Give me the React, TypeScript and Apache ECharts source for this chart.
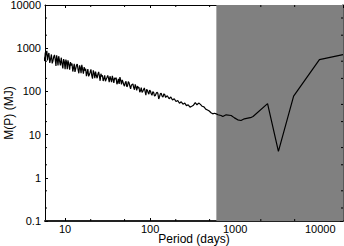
import React, { useEffect, useRef } from "react";
import * as echarts from "echarts";

const periods = [
  5.6, 5.7, 5.8, 5.95, 6.1, 6.2, 6.3, 6.45, 6.6, 6.75,
  6.9, 7.05, 7.2, 7.35, 7.5, 7.65, 7.8, 7.95, 8.1, 8.25,
  8.4, 8.6, 8.8, 9.0, 9.2, 9.4, 9.6, 9.8, 10, 10.2,
  10.4, 10.6, 10.8, 11.05, 11.3, 11.55, 11.8, 12.05, 12.3, 12.55,
  12.8, 13.05, 13.3, 13.6, 13.9, 14.2, 14.5, 14.8, 15.1, 15.4,
  15.7, 16.05, 16.4, 16.75, 17.1, 17.45, 17.8, 18.15, 18.5, 18.9,
  19.3, 19.7, 20.1, 20.55, 21, 21.45, 21.9, 22.35, 22.8, 23.3,
  23.8, 24.3, 24.8, 25.3, 25.8, 26.35, 26.9, 27.45, 28, 28.6,
  29.2, 29.8, 30.4, 31.05, 31.7, 32.35, 33, 33.7, 34.4, 35.15,
  35.9, 36.65, 37.4, 38.2, 39, 39.8, 40.6, 41.45, 42.3, 43.2,
  44.1, 45.05, 46, 46.95, 47.9, 48.9, 49.9, 50.95, 52, 53.1,
  54.2, 55.35, 56.5, 57.7, 58.9, 60.15, 61.4, 62.7, 64, 65.35,
  66.7, 68.1, 69.5, 70.95, 72.4, 73.9, 75.4, 77, 78.6, 80.25,
  81.9, 83.65, 85.4, 87.2, 89, 90.85, 92.7, 94.65, 96.6, 98.65,
  100.7, 102.8, 105, 107.5, 110, 112.5, 115, 117.5, 120, 123,
  126, 129, 132, 135, 138, 141.5, 145, 148.5, 152,
  159, 167, 175, 183, 192, 201, 211, 221, 232, 243,
  255, 267, 280, 294, 308, 323, 339, 355, 372, 390,
  409, 429, 450, 472, 495, 519, 544, 570, 598, 627,
  681, 714, 782, 896, 980, 1070, 1170, 1280, 1550, 1620,
  2400, 3220, 4860, 9770, 18500,
];

const masses = [
  794, 507, 537, 724, 871, 519, 661, 776, 457, 566,
  716, 444, 513, 635, 700, 546, 389, 684, 550, 400,
  653, 510, 398, 603, 447, 342, 558, 479, 327, 546,
  468, 327, 525, 429, 320, 476, 398, 442, 288, 351,
  437, 283, 327, 405, 427, 320, 263, 400, 351, 263,
  412, 329, 257, 367, 302, 333, 226, 269, 327, 223,
  245, 279, 324, 236, 197, 307, 263, 202, 288, 230,
  202, 250, 282, 225, 176, 257, 221, 236, 174, 197,
  234, 172, 191, 211, 234, 203, 164, 224, 194, 164,
  229, 193, 158, 207, 191, 208, 146, 163, 194, 149,
  214, 179, 146, 185, 166, 143, 132, 159, 172, 128,
  135, 168, 158, 133, 114, 140, 145, 149, 122, 109,
  145, 127, 105, 133, 119, 125, 95.5, 104, 123, 94.4,
  100, 111, 120, 98.3, 82.2, 112, 106, 93.3, 86.1, 107,
  102, 88.1, 81.3, 98.9, 93.3, 78.1, 80.4, 89.7, 95.5, 90.7,
  66.8, 76.3, 89.1, 90.2, 77.6, 73.7, 88.1, 83.6, 72.4,
  79.4, 67.6, 74.1, 63.1, 67.6, 58.2, 61.7, 53.1, 57.5, 50.7,
  53.7, 46.8, 49, 43.2, 45.2, 47.9, 55, 49, 53.7, 50.1,
  45.2, 43.7, 38.9, 37.2, 35.1, 32, 30.2, 31.3, 30.2, 28.8,
  27.7, 26.3, 28.7, 27.7, 24.4, 22, 21.2, 23.2, 25.1, 26.3,
  52, 4.1, 78, 546, 713,
];

const xMin = 5.8;
const xMax = 18500;
const yMin = 0.1;
const yMax = 10000;
const shadeStart = 600;
const xMinorTicks = [20, 50, 200, 500, 2000, 5000];
const yMinorTicks = [0.2, 0.5, 2, 5, 20, 50, 200, 500, 2000, 5000];

const FONT = "'Liberation Sans', Arial, Helvetica, sans-serif";

export default function App() {
  const ref = useRef<HTMLDivElement>(null);
  useEffect(() => {
    if (!ref.current) return;
    const chart = echarts.init(ref.current, null, { renderer: "svg" });
    const lineData = periods.map((p, i) => [p, masses[i]]);
    const minorData = [
      ...xMinorTicks.map((v) => [v, 1, 0]),
      ...yMinorTicks.map((v) => [100, v, 1]),
    ];
    const fmt = (v: number) => (v < 1 ? v.toFixed(1) : String(Math.round(v)));
    const tick = { show: true, inside: true, length: 3, lineStyle: { color: "#000", width: 1 } };
    chart.setOption({
      animation: false,
      grid: { left: 45, right: 1, top: 5, bottom: 25, containLabel: false, outerBoundsMode: "none" },
      xAxis: [
        {
          type: "log",
          logBase: 10,
          min: xMin,
          max: xMax,
          position: "bottom",
          axisLine: { show: true, lineStyle: { color: "#222", width: 2 } },
          axisTick: tick,
          splitLine: { show: false },
          axisLabel: {
            show: true,
            margin: 2,
            color: "#000",
            fontSize: 11,
            lineHeight: 11,
            fontFamily: FONT,
            showMinLabel: false,
            showMaxLabel: false,
            formatter: fmt,
          },
          name: "Period (days)",
          nameLocation: "middle",
          nameGap: 12,
          nameMoveOverlap: false,
          nameTextStyle: { color: "#000", fontSize: 12, lineHeight: 12, fontFamily: FONT },
        },
        {
          type: "log",
          logBase: 10,
          min: xMin,
          max: xMax,
          position: "top",
          axisLine: { show: true, lineStyle: { color: "#000", width: 1 } },
          axisTick: tick,
          splitLine: { show: false },
          axisLabel: { show: false },
        },
      ],
      yAxis: [
        {
          type: "log",
          logBase: 10,
          min: yMin,
          max: yMax,
          position: "left",
          axisLine: { show: true, lineStyle: { color: "#000", width: 1 } },
          axisTick: tick,
          splitLine: { show: false },
          axisLabel: {
            show: true,
            margin: 4,
            color: "#000",
            fontSize: 11,
            fontFamily: FONT,
            formatter: fmt,
          },
          name: "M(P) (MJ)",
          nameLocation: "middle",
          nameGap: 30,
          nameMoveOverlap: false,
          nameTextStyle: { color: "#000", fontSize: 12, fontFamily: FONT },
        },
        {
          type: "log",
          logBase: 10,
          min: yMin,
          max: yMax,
          position: "right",
          axisLine: { show: true, lineStyle: { color: "#222", width: 1.5 } },
          axisTick: tick,
          splitLine: { show: false },
          axisLabel: { show: false },
        },
      ],
      series: [
        {
          type: "line",
          xAxisIndex: 0,
          yAxisIndex: 0,
          data: lineData,
          showSymbol: false,
          symbol: "none",
          z: 3,
          lineStyle: { color: "#000", width: 1.2 },
          markArea: {
            silent: true,
            itemStyle: { color: "#808080", opacity: 1 },
            data: [[{ xAxis: shadeStart }, { xAxis: xMax }]],
          },
        },
        {
          type: "custom",
          xAxisIndex: 0,
          yAxisIndex: 0,
          data: minorData,
          z: 4,
          silent: true,
          clip: false,
          renderItem: (params: any, api: any) => {
            const cs = params.coordSys;
            const flag = api.value(2);
            const style = { stroke: "#000", lineWidth: 1 };
            if (flag === 0) {
              const px = api.coord([api.value(0), 1])[0];
              return {
                type: "group",
                children: [
                  { type: "line", shape: { x1: px, y1: cs.y + cs.height, x2: px, y2: cs.y + cs.height - 2 }, style },
                  { type: "line", shape: { x1: px, y1: cs.y, x2: px, y2: cs.y + 2 }, style },
                ],
              };
            }
            const py = api.coord([100, api.value(1)])[1];
            return {
              type: "group",
              children: [
                { type: "line", shape: { x1: cs.x, y1: py, x2: cs.x + 2, y2: py }, style },
                { type: "line", shape: { x1: cs.x + cs.width, y1: py, x2: cs.x + cs.width - 2, y2: py }, style },
              ],
            };
          },
        },
      ],
    });
    return () => chart.dispose();
  }, []);
  return (
    <div
      ref={ref}
      style={{ position: "fixed", left: 0, top: 0, width: 344, height: 246, background: "#fff" }}
    />
  );
}
